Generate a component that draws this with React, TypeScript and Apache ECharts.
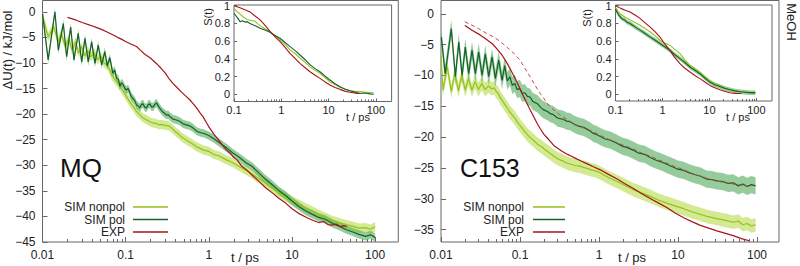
import React, { useEffect, useRef } from "react";
import * as echarts from "echarts";

// ---------- tick labels ----------
const MAIN_X_TICKS = [0.01, 0.1, 1, 10, 100];
const MAIN_X_MINOR = [0.02, 0.03, 0.04, 0.05, 0.06, 0.07, 0.08, 0.09, 0.2, 0.3, 0.4, 0.5, 0.6, 0.7, 0.8, 0.9, 2, 3, 4, 5, 6, 7, 8, 9, 20, 30, 40, 50, 60, 70, 80, 90];
const INSET_X_TICKS = [0.1, 1, 10, 100];
const INSET_X_MINOR = [0.2, 0.3, 0.4, 0.5, 0.6, 0.7, 0.8, 0.9, 2, 3, 4, 5, 6, 7, 8, 9, 20, 30, 40, 50, 60, 70, 80, 90];
const MQ_Y_TICKS = [-45, -40, -35, -30, -25, -20, -15, -10, -5, 0];
const C153_Y_TICKS = [-35, -30, -25, -20, -15, -10, -5, 0];
const INSET_Y_TICKS = [0, 0.2, 0.4, 0.6, 0.8, 1];

const LEGEND_NAMES = ["SIM nonpol", "SIM pol", "EXP"];

// ---------- MQ panel: ΔU(t) in kJ/mol vs t in ps ----------
const mqNonpol = [
  [0.01, -0.8], [0.0117, -4.9], [0.0137, -3.0], [0.0155, -5.9], [0.0168, -4.2], [0.0188, -6.8], [0.0207, -5.2],
  [0.0226, -7.5], [0.0249, -5.9], [0.0271, -8.1], [0.0295, -6.8], [0.032, -8.6], [0.035, -7.6], [0.038, -8.8],
  [0.042, -8.0], [0.046, -9.4], [0.05, -8.6], [0.055, -10.0], [0.06, -10.4], [0.064, -11.2], [0.068, -12.4],
  [0.075, -13.3], [0.08, -13.9], [0.085, -14.5], [0.092, -15.4], [0.1025, -16.6], [0.112, -17.6], [0.123, -18.5],
  [0.135, -19.5], [0.148, -20.1], [0.16, -20.7], [0.178, -21.1], [0.195, -21.5], [0.21, -21.7], [0.23, -21.8],
  [0.25, -22.1], [0.27, -22.0], [0.3, -22.2], [0.33, -22.3], [0.35, -22.6], [0.4, -23.5], [0.44, -24.0],
  [0.47, -24.5], [0.55, -25.2], [0.62, -25.7], [0.7, -26.3], [0.85, -27.0], [1.0, -27.3], [1.15, -27.9],
  [1.34, -28.2], [1.6, -28.9], [1.95, -29.5], [2.3, -30.2], [2.8, -31.0], [3.3, -31.7], [4.0, -32.6],
  [4.8, -33.5], [5.8, -34.5], [7.0, -35.4], [8.4, -36.2], [10, -36.9], [12, -37.6], [14.5, -38.3],
  [17.6, -38.9], [21, -39.6], [25.5, -40.2], [31, -40.8], [37, -41.2], [45, -41.6], [53, -41.9], [64, -42.3],
  [77, -42.2], [88, -42.5], [100, -42.0],
];
const mqPol = [
  [0.01, -0.4], [0.0117, -9.4], [0.0141, 0.0], [0.0155, -7.5], [0.0178, -2.3], [0.0195, -8.8], [0.0218, -3.0],
  [0.0239, -9.4], [0.0269, -4.2], [0.0296, -9.8], [0.0324, -5.2], [0.0355, -9.8], [0.039, -5.9], [0.0427, -10.1],
  [0.0468, -6.5], [0.0514, -10.4], [0.0562, -7.8], [0.06, -10.6], [0.0646, -9.0], [0.07, -12.0], [0.074, -11.4],
  [0.0778, -13.0], [0.082, -13.2], [0.085, -14.6], [0.089, -13.9], [0.093, -14.2], [0.098, -15.0], [0.1025, -15.3],
  [0.107, -15.0], [0.112, -15.8], [0.117, -16.6], [0.123, -17.0], [0.129, -17.4], [0.135, -18.2], [0.141, -18.4],
  [0.148, -18.8], [0.155, -18.1], [0.162, -18.0], [0.17, -18.7], [0.178, -18.8], [0.186, -18.2], [0.195, -18.0],
  [0.205, -18.6], [0.215, -18.6], [0.225, -18.1], [0.235, -17.8], [0.246, -18.4], [0.258, -18.9], [0.27, -19.3],
  [0.28, -19.6], [0.295, -19.9], [0.31, -20.2], [0.325, -20.1], [0.34, -20.5], [0.355, -20.7], [0.372, -21.0],
  [0.4, -21.1], [0.447, -21.4], [0.49, -21.9], [0.538, -22.1], [0.59, -22.3], [0.646, -22.7], [0.71, -23.3],
  [0.78, -23.6], [0.88, -23.8], [1.0, -24.2], [1.15, -24.8], [1.34, -25.6], [1.6, -26.5], [1.95, -27.6],
  [2.3, -28.4], [2.8, -29.5], [3.3, -30.2], [4.0, -31.5], [4.8, -32.7], [5.8, -33.8], [7.0, -35.0], [8.4, -35.9],
  [10, -37.0], [12, -38.0], [14.5, -38.9], [17.6, -39.6], [21, -40.2], [25.5, -40.6], [31, -41.4], [37, -41.9],
  [45, -42.6], [53, -43.0], [64, -43.5], [77, -43.9], [88, -43.6], [100, -44.1],
];
const mqExp = [
  [0.02, -1.1], [0.025, -1.6], [0.03, -2.1], [0.037, -2.6], [0.045, -3.1], [0.052, -3.5], [0.059, -3.9],
  [0.068, -4.4], [0.08, -5.0], [0.09, -5.4], [0.1, -5.8], [0.115, -6.3], [0.135, -6.8], [0.15, -7.5],
  [0.17, -8.3], [0.2, -9.1], [0.234, -10.1], [0.265, -11.0], [0.3, -12.0], [0.33, -13.0], [0.37, -14.0],
  [0.42, -14.9], [0.47, -15.7], [0.53, -16.5], [0.59, -17.2], [0.65, -18.0], [0.72, -18.9], [0.78, -19.7],
  [0.85, -20.5], [0.93, -21.6], [1.02, -22.7], [1.15, -23.9], [1.3, -25.0], [1.45, -26.0], [1.62, -27.0],
  [1.8, -27.6], [2.0, -28.5], [2.2, -29.0], [2.5, -30.2], [2.9, -31.0], [3.4, -32.1], [4.1, -33.3], [4.9, -34.5],
  [5.8, -35.4], [7.0, -36.5], [8.4, -37.4], [10, -38.5], [12, -39.4], [15, -40.2], [18, -40.8], [21, -41.2],
  [24, -41.0], [27, -41.6], [30, -41.7], [34, -41.5], [38, -42.0], [42, -41.8], [46, -42.0],
];

// ---------- C153 panel ----------
const c153Nonpol = [
  [0.01, -6.8], [0.0106, -12.4], [0.012, -8.6], [0.0135, -12.6], [0.015, -9.6], [0.0166, -12.5], [0.0183, -10.0],
  [0.0203, -12.4], [0.0222, -10.5], [0.0246, -12.4], [0.027, -11.0], [0.0298, -12.3], [0.0328, -11.3],
  [0.0362, -12.3], [0.04, -11.7], [0.044, -12.2], [0.047, -12.0], [0.05, -12.6], [0.053, -12.9], [0.056, -13.6],
  [0.06, -14.1], [0.065, -14.8], [0.07, -15.4], [0.075, -16.0], [0.081, -16.5], [0.087, -17.0], [0.093, -17.6],
  [0.1, -18.1], [0.11, -18.8], [0.12, -19.4], [0.133, -20.0], [0.148, -20.5], [0.165, -21.1], [0.19, -21.6],
  [0.21, -22.1], [0.24, -22.6], [0.27, -23.1], [0.3, -23.5], [0.34, -23.8], [0.39, -24.2], [0.44, -24.4],
  [0.5, -24.6], [0.57, -24.7], [0.64, -24.9], [0.72, -25.1], [0.8, -25.3], [0.92, -25.5], [1.04, -25.8],
  [1.3, -26.5], [1.69, -27.2], [2.1, -27.8], [2.7, -28.5], [3.4, -29.0], [4.46, -29.6], [5.6, -30.2],
  [7.2, -30.7], [9, -31.1], [11.8, -31.6], [15, -32.1], [19, -32.5], [24, -32.9], [31, -33.2], [40, -33.5],
  [50, -33.8], [58, -33.6], [66, -34.2], [75, -34.0], [85, -34.4], [96, -34.2],
];
const c153Pol = [
  [0.0101, -3.8], [0.0113, -9.7], [0.0135, -2.4], [0.0152, -10.2], [0.0168, -4.6], [0.0185, -10.0],
  [0.0203, -5.4], [0.0224, -9.7], [0.0247, -5.9], [0.0272, -9.7], [0.03, -6.2], [0.0331, -10.0], [0.0364, -6.5],
  [0.0402, -10.2], [0.0443, -7.0], [0.0488, -10.5], [0.0538, -7.5], [0.0593, -10.8], [0.0641, -8.4],
  [0.069, -10.9], [0.0743, -10.2], [0.08, -11.6], [0.086, -11.3], [0.092, -12.3], [0.0994, -12.1],
  [0.107, -12.9], [0.115, -12.8], [0.124, -13.4], [0.134, -13.5], [0.145, -14.2], [0.155, -14.4],
  [0.167, -14.6], [0.18, -15.1], [0.195, -15.5], [0.21, -15.7], [0.225, -15.9], [0.241, -16.2], [0.26, -16.3],
  [0.28, -16.6], [0.3, -16.9], [0.322, -17.0], [0.35, -17.1], [0.39, -17.4], [0.43, -17.5], [0.471, -17.8],
  [0.52, -18.1], [0.58, -18.3], [0.64, -18.4], [0.703, -18.7], [0.77, -19.0], [0.85, -19.4], [0.94, -19.6],
  [1.04, -19.9], [1.2, -20.3], [1.4, -20.5], [1.69, -21.0], [2.0, -21.5], [2.3, -21.7], [2.7, -22.1],
  [3.2, -22.6], [3.8, -22.8], [4.46, -23.3], [5.2, -23.7], [6.1, -24.0], [7.2, -24.4], [8.5, -24.8],
  [10, -25.2], [11.8, -25.4], [14, -25.8], [16.5, -26.1], [19, -26.3], [23, -26.8], [27, -26.9],
  [31, -27.1], [37, -27.2], [43, -27.5], [50, -27.4], [58, -27.9], [66, -27.6], [75, -28.0], [85, -27.7],
  [96, -27.9],
];
const c153Exp = [
  [0.02, -1.9], [0.025, -2.7], [0.03, -3.3], [0.037, -4.1], [0.045, -4.9], [0.052, -5.8], [0.06, -6.8],
  [0.067, -7.8], [0.075, -8.9], [0.082, -9.9], [0.09, -10.9], [0.097, -11.8], [0.105, -12.8], [0.112, -13.5],
  [0.12, -14.3], [0.13, -15.2], [0.14, -16.0], [0.152, -16.9], [0.165, -17.8], [0.18, -18.6], [0.2, -19.5],
  [0.22, -20.1], [0.25, -20.9], [0.27, -21.4], [0.3, -21.8], [0.34, -22.3], [0.4, -22.8], [0.45, -23.1],
  [0.5, -23.4], [0.6, -23.9], [0.7, -24.3], [0.85, -24.8], [1.04, -25.3], [1.3, -26.0], [1.7, -26.8],
  [2.1, -27.5], [2.7, -28.3], [3.4, -29.1], [4.5, -30.0], [5.7, -30.7], [7.2, -31.4], [9.2, -32.3],
  [12, -33.1], [15, -33.7], [19.2, -34.3], [25, -34.8], [31, -35.2], [40, -35.6], [51, -36.0], [65, -36.5],
  [80, -36.8],
];
const c153ExpShifted = [
  [0.02, -1.3], [0.028, -2.2], [0.038, -3.2], [0.047, -3.8], [0.055, -4.4], [0.068, -5.4], [0.085, -6.5],
  [0.1, -7.5], [0.115, -8.8], [0.134, -10.2], [0.155, -11.6], [0.18, -12.9], [0.21, -14.1], [0.24, -15.1],
  [0.28, -15.8], [0.32, -16.4], [0.39, -17.1], [0.475, -17.8], [0.6, -18.4], [0.77, -18.9], [1.04, -19.7],
  [1.3, -20.3], [1.7, -20.9], [2.2, -21.5], [2.7, -21.9], [3.5, -22.6], [4.5, -23.1], [5.7, -23.7],
  [7.2, -24.2], [9.2, -24.8], [12, -25.3], [15, -25.9], [19, -26.3], [25, -26.8], [31, -27.1], [40, -27.4],
  [50, -27.6], [65, -27.8], [80, -28.0],
];

// ---------- insets: S(t) ----------
const mqNonpolS = [
  [0.1, 0.97], [0.115, 0.935], [0.134, 0.905], [0.16, 0.87], [0.19, 0.845], [0.218, 0.835], [0.25, 0.83],
  [0.277, 0.825], [0.31, 0.8], [0.355, 0.775], [0.45, 0.74], [0.577, 0.71], [0.75, 0.66], [0.94, 0.615],
  [1.2, 0.56], [1.53, 0.505], [2.0, 0.455], [2.48, 0.41], [3.2, 0.36], [4.04, 0.31], [5.2, 0.27],
  [6.58, 0.237], [8.4, 0.19], [10.7, 0.142], [13.7, 0.11], [17.4, 0.079], [22, 0.06], [28.4, 0.04],
  [36, 0.035], [46, 0.03], [58, 0.025], [75, 0.02], [90, 0.015],
];
const mqPolS = [
  [0.1, 0.915], [0.12, 0.86], [0.134, 0.82], [0.15, 0.83], [0.17, 0.815], [0.19, 0.82], [0.218, 0.8],
  [0.25, 0.785], [0.29, 0.77], [0.355, 0.745], [0.45, 0.725], [0.577, 0.7], [0.7, 0.67], [0.94, 0.633],
  [1.2, 0.585], [1.53, 0.538], [2.0, 0.49], [2.48, 0.444], [3.2, 0.39], [4.04, 0.335], [5.2, 0.29],
  [6.58, 0.255], [8.4, 0.205], [10.7, 0.162], [13.7, 0.12], [17.4, 0.086], [22, 0.06], [28.4, 0.04],
  [36, 0.025], [46, 0.01], [58, 0.015], [75, 0.005], [90, 0.0],
];
const mqExpS = [
  [0.1, 1.0], [0.13, 0.98], [0.17, 0.955], [0.218, 0.93], [0.27, 0.89], [0.355, 0.84], [0.45, 0.78],
  [0.6, 0.7], [0.75, 0.645], [0.94, 0.594], [1.2, 0.53], [1.53, 0.463], [2.0, 0.4], [2.48, 0.35], [3.2, 0.3],
  [4.04, 0.255], [5.2, 0.215], [6.58, 0.18], [8.4, 0.14], [10.7, 0.105], [13.7, 0.078], [17.4, 0.056],
  [22, 0.036], [28.4, 0.023], [36, 0.014], [46, 0.01],
];
const c153NonpolS = [
  [0.1, 0.98], [0.112, 0.94], [0.125, 0.91], [0.16, 0.87], [0.204, 0.838], [0.26, 0.81], [0.332, 0.78],
  [0.42, 0.745], [0.542, 0.706], [0.7, 0.66], [0.885, 0.611], [1.1, 0.58], [1.44, 0.555], [1.8, 0.51],
  [2.36, 0.46], [3.0, 0.39], [3.85, 0.328], [5.0, 0.29], [6.28, 0.252], [8.0, 0.2], [10.2, 0.158],
  [13, 0.125], [16.7, 0.1], [21, 0.075], [27.3, 0.053], [35, 0.04], [45, 0.03], [58, 0.025], [72, 0.02],
  [95, 0.01],
];
const c153PolS = [
  [0.1, 0.96], [0.115, 0.9], [0.135, 0.857], [0.16, 0.835], [0.18, 0.81], [0.204, 0.8], [0.24, 0.775],
  [0.28, 0.75], [0.332, 0.725], [0.42, 0.69], [0.542, 0.649], [0.7, 0.61], [0.885, 0.574], [1.1, 0.54],
  [1.44, 0.498], [1.8, 0.45], [2.36, 0.404], [3.0, 0.36], [3.85, 0.309], [5.0, 0.27], [6.28, 0.234],
  [8.0, 0.185], [10.2, 0.139], [13, 0.11], [16.7, 0.09], [21, 0.07], [27.3, 0.053], [35, 0.04], [45, 0.03],
  [58, 0.025], [72, 0.02], [95, 0.02],
];
const c153ExpS = [
  [0.1, 1.0], [0.13, 0.97], [0.16, 0.95], [0.204, 0.93], [0.26, 0.895], [0.332, 0.857], [0.42, 0.81],
  [0.542, 0.762], [0.7, 0.705], [0.885, 0.645], [1.1, 0.575], [1.44, 0.495], [1.8, 0.42], [2.36, 0.348],
  [3.0, 0.295], [3.85, 0.253], [5.0, 0.21], [6.28, 0.178], [8.0, 0.14], [10.2, 0.102], [13, 0.075],
  [16.7, 0.053], [21, 0.035], [27.3, 0.019], [35, 0.012], [48, 0.01],
];

// half widths of the shaded uncertainty bands
const BAND_MQ_NONPOL = 0.9;
const BAND_MQ_POL = 0.8;
const BAND_C153_NONPOL = 1.1;
const BAND_C153_POL = 1.4;
const BAND_C153_POL_S = 0.025;

// ---------- styles ----------
const FONT = "'Liberation Sans', Arial, Helvetica, sans-serif";
const C_NONPOL = "#94c11c";
const C_NONPOL_BAND = "rgba(196,226,110,0.75)";
const C_POL = "#17602a";
const C_POL_BAND = "rgba(80,170,90,0.6)";
const C_EXP = "#a8141a";
const C_EXP_DASH = "#c84848";
const FRAME = "#666";
const TXT = "#222";

const fmtNum = (v: number) => {
  const s = String(Number(Number(v).toPrecision(6)));
  return v < 0 ? "\u2212" + s.slice(1) : s;
};

function makeX(gridIndex: number, min: number, max: number, major: boolean, fs: number, margin: number, len: number) {
  const isMain = min < 0.05;
  return {
    type: "log",
    logBase: 10,
    gridIndex,
    min,
    max,
    position: "bottom",
    axisLine: { show: false, onZero: false },
    splitLine: { show: false },
    axisTick: {
      show: true,
      inside: true,
      length: len,
      lineStyle: { color: FRAME, width: 1 },
      customValues: major ? (isMain ? MAIN_X_TICKS : INSET_X_TICKS) : isMain ? MAIN_X_MINOR : INSET_X_MINOR,
    },
    axisLabel: major
      ? {
          show: true,
          customValues: isMain ? MAIN_X_TICKS : INSET_X_TICKS,
          formatter: (v: number) => fmtNum(v),
          fontSize: fs,
          fontFamily: FONT,
          color: TXT,
          margin,
        }
      : { show: false },
  };
}

function makeY(gridIndex: number, min: number, max: number, ticks: number[], fs: number, margin: number, len: number) {
  return {
    type: "value",
    gridIndex,
    min,
    max,
    axisLine: { show: false, onZero: false },
    splitLine: { show: false },
    axisTick: { show: true, inside: true, length: len, lineStyle: { color: FRAME, width: 1 }, customValues: ticks },
    axisLabel: {
      show: true,
      customValues: ticks,
      formatter: (v: number) => fmtNum(v),
      fontSize: fs,
      fontFamily: FONT,
      color: TXT,
      margin,
    },
  };
}

function band(data: number[][], hw: number, color: string, xi: number, yi: number) {
  return {
    type: "custom",
    xAxisIndex: xi,
    yAxisIndex: yi,
    silent: true,
    clip: true,
    z: 3,
    data: [data[0]],
    renderItem: (_p: any, api: any) => {
      const upper = data.map((d) => api.coord([d[0], d[1] + hw]));
      const lower = data.map((d) => api.coord([d[0], d[1] - hw])).reverse();
      return { type: "polygon", shape: { points: upper.concat(lower) }, style: { fill: color } };
    },
  };
}

function line(name: string, data: number[][], color: string, xi: number, yi: number, width = 1.2, dashed = false) {
  return {
    type: "line",
    name,
    xAxisIndex: xi,
    yAxisIndex: yi,
    data,
    z: 4,
    showSymbol: false,
    symbol: "none",
    clip: true,
    silent: true,
    lineStyle: { color, width, type: dashed ? [4, 3] : "solid" },
  };
}

function legendGraphics(textRight: number, lineX0: number, lineX1: number, rows: number[]) {
  const colors = [C_NONPOL, C_POL, C_EXP];
  const out: any[] = [];
  LEGEND_NAMES.forEach((n, i) => {
    out.push({
      type: "text",
      x: textRight,
      y: rows[i],
      style: { text: n, fontSize: 12, fontFamily: FONT, fill: TXT, align: "right", verticalAlign: "middle" },
    });
    out.push({
      type: "line",
      shape: { x1: lineX0, y1: rows[i], x2: lineX1, y2: rows[i] },
      style: { stroke: colors[i], lineWidth: 1.5 },
    });
  });
  return out;
}

export default function App() {
  const ref = useRef<HTMLDivElement>(null);
  useEffect(() => {
    if (!ref.current) return;
    const chart = echarts.init(ref.current, undefined, { renderer: "svg" });
    const gridBase = { show: true, borderColor: FRAME, borderWidth: 1, containLabel: false };
    const option: any = {
      animation: false,
      backgroundColor: "#fff",
      grid: [
        { ...gridBase, left: 42.5, top: 0.5, width: 355.8, height: 241.5 },
        { ...gridBase, left: 441, top: 0.5, width: 338, height: 241.5 },
        { ...gridBase, left: 234, top: 5, width: 157.6, height: 96.5, backgroundColor: "#fff" },
        { ...gridBase, left: 615.5, top: 5, width: 156.5, height: 96, backgroundColor: "#fff" },
      ],
      xAxis: [
        makeX(0, 0.01, 190, true, 12, 7, 5),
        makeX(0, 0.01, 190, false, 12, 7, 3),
        makeX(1, 0.01, 190, true, 12, 7, 5),
        makeX(1, 0.01, 190, false, 12, 7, 3),
        makeX(2, 0.1, 215, true, 11, 3, 3),
        makeX(2, 0.1, 215, false, 11, 3, 2),
        makeX(3, 0.1, 215, true, 11, 3, 3),
        makeX(3, 0.1, 215, false, 11, 3, 2),
      ],
      yAxis: [
        makeY(0, -45, 2.2, MQ_Y_TICKS, 12, 7, 5),
        makeY(1, -37, 2.15, C153_Y_TICKS, 12, 7, 5),
        makeY(2, -0.081, 1.008, INSET_Y_TICKS, 11, 4, 3),
        makeY(3, -0.074, 1.008, INSET_Y_TICKS, 11, 4, 3),
      ],
      series: [
        band(mqNonpol, BAND_MQ_NONPOL, C_NONPOL_BAND, 0, 0),
        band(mqPol, BAND_MQ_POL, C_POL_BAND, 0, 0),
        line("SIM nonpol", mqNonpol, C_NONPOL, 0, 0),
        line("SIM pol", mqPol, C_POL, 0, 0),
        line("EXP", mqExp, C_EXP, 0, 0),

        band(c153Nonpol, BAND_C153_NONPOL, C_NONPOL_BAND, 2, 1),
        band(c153Pol, BAND_C153_POL, C_POL_BAND, 2, 1),
        line("SIM nonpol", c153Nonpol, C_NONPOL, 2, 1),
        line("SIM pol", c153Pol, C_POL, 2, 1),
        line("EXP", c153Exp, C_EXP, 2, 1),
        line("EXP shifted", c153ExpShifted, C_EXP_DASH, 2, 1, 1, true),

        line("SIM nonpol", mqNonpolS, C_NONPOL, 4, 2, 1.1),
        line("SIM pol", mqPolS, C_POL, 4, 2, 1.1),
        line("EXP", mqExpS, C_EXP, 4, 2, 1.1),

        band(c153PolS, BAND_C153_POL_S, C_POL_BAND, 6, 3),
        line("SIM nonpol", c153NonpolS, C_NONPOL, 6, 3, 1.1),
        line("SIM pol", c153PolS, C_POL, 6, 3, 1.1),
        line("EXP", c153ExpS, C_EXP, 6, 3, 1.1),
      ],
      graphic: [
        {
          type: "text",
          x: 7,
          y: 50,
          rotation: Math.PI / 2,
          style: { text: "\u0394U(t) / kJ/mol", fontSize: 13, fontFamily: FONT, fill: TXT, align: "center", verticalAlign: "middle" },
        },
        {
          type: "text",
          x: 791,
          y: 22,
          rotation: -Math.PI / 2,
          style: { text: "MeOH", fontSize: 13, fontFamily: FONT, fill: TXT, align: "center", verticalAlign: "middle" },
        },
        { type: "text", x: 60, y: 168, style: { text: "MQ", fontSize: 26, fontFamily: FONT, fill: "#111", align: "left", verticalAlign: "middle" } },
        { type: "text", x: 460, y: 168, style: { text: "C153", fontSize: 25, fontFamily: FONT, fill: "#111", align: "left", verticalAlign: "middle" } },
        { type: "text", x: 245, y: 257, style: { text: "t / ps", fontSize: 13, fontFamily: FONT, fill: TXT, align: "center", verticalAlign: "middle" } },
        { type: "text", x: 632, y: 257, style: { text: "t / ps", fontSize: 13, fontFamily: FONT, fill: TXT, align: "center", verticalAlign: "middle" } },
        { type: "text", x: 358, y: 117, style: { text: "t / ps", fontSize: 11, fontFamily: FONT, fill: TXT, align: "center", verticalAlign: "middle" } },
        { type: "text", x: 738, y: 117, style: { text: "t / ps", fontSize: 11, fontFamily: FONT, fill: TXT, align: "center", verticalAlign: "middle" } },
        {
          type: "text",
          x: 208,
          y: 17,
          rotation: Math.PI / 2,
          style: { text: "S(t)", fontSize: 11, fontFamily: FONT, fill: TXT, align: "center", verticalAlign: "middle" },
        },
        {
          type: "text",
          x: 587,
          y: 18,
          rotation: Math.PI / 2,
          style: { text: "S(t)", fontSize: 11, fontFamily: FONT, fill: TXT, align: "center", verticalAlign: "middle" },
        },
        ...legendGraphics(125, 133, 168, [207, 219.5, 232]),
        ...legendGraphics(524, 533, 565, [207, 219.5, 232]),
      ],
    };
    chart.setOption(option);
    return () => chart.dispose();
  }, []);
  return (
    <div
      ref={ref}
      style={{ position: "absolute", left: 0, top: 0, width: 800, height: 266, background: "#fff" }}
    />
  );
}
